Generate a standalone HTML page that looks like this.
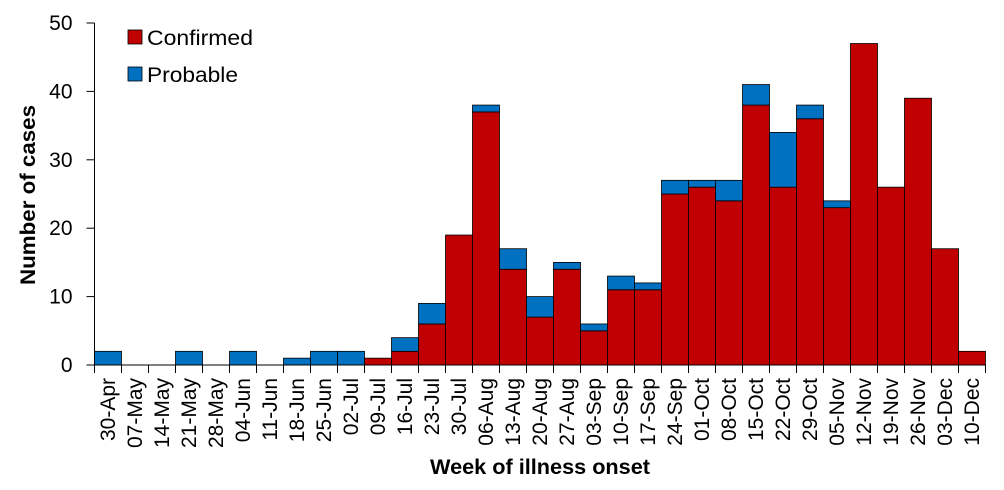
<!DOCTYPE html>
<html><head><meta charset="utf-8"><style>
html,body{margin:0;padding:0;background:#fff;}
svg text{font-family:"Liberation Sans",sans-serif;}
</style></head><body>
<svg id="chart" width="1004" height="485" viewBox="0 0 1004 485" xmlns="http://www.w3.org/2000/svg">
<g id="bars"></g>
<g id="axes"></g>
<g>
<rect x="128" y="30" width="14" height="14" fill="#C00000" stroke="#000" stroke-width="0.8"/>
<text x="147" y="45" font-size="21" textLength="106" lengthAdjust="spacingAndGlyphs">Confirmed</text>
<rect x="128" y="67" width="14" height="14" fill="#0070C0" stroke="#000" stroke-width="0.8"/>
<text x="147" y="82" font-size="21" textLength="91" lengthAdjust="spacingAndGlyphs">Probable</text>
</g>
<text transform="translate(35,195) rotate(-90)" text-anchor="middle" font-size="21" font-weight="bold" textLength="180" lengthAdjust="spacingAndGlyphs">Number of cases</text>
<text x="540" y="474" text-anchor="middle" font-size="21" font-weight="bold" textLength="220" lengthAdjust="spacingAndGlyphs">Week of illness onset</text>
</svg>
<script>
const categories=["30-Apr","07-May","14-May","21-May","28-May","04-Jun","11-Jun","18-Jun","25-Jun","02-Jul","09-Jul","16-Jul","23-Jul","30-Jul","06-Aug","13-Aug","20-Aug","27-Aug","03-Sep","10-Sep","17-Sep","24-Sep","01-Oct","08-Oct","15-Oct","22-Oct","29-Oct","05-Nov","12-Nov","19-Nov","26-Nov","03-Dec","10-Dec"];
const confirmed=[0,0,0,0,0,0,0,0,0,0,1,2,6,19,37,14,7,14,5,11,11,25,26,24,38,26,36,23,47,26,39,17,2];
const probable=[2,0,0,2,0,2,0,1,2,2,0,2,3,0,1,3,3,1,1,2,1,2,1,3,3,8,2,1,0,0,0,0,0];
const yTicks=[0,10,20,30,40,50];
const X0=94.5,X1=985.5,Y0=365,Y1=23,YMAX=50;
const bw=(X1-X0)/categories.length;
const x=i=>X0+i*bw;
const y=v=>Y0-(v/YMAX)*(Y0-Y1);
const NS="http://www.w3.org/2000/svg";
const bars=document.getElementById('bars'),axes=document.getElementById('axes');
function mk(tag,attrs,parent){const e=document.createElementNS(NS,tag);for(const k in attrs)e.setAttribute(k,attrs[k]);parent.appendChild(e);return e;}
categories.forEach((c,i)=>{
  if(confirmed[i]>0){const r=mk('rect',{x:x(i),y:y(confirmed[i]),width:bw,height:y(0)-y(confirmed[i]),fill:'#C00000',stroke:'#000','stroke-width':0.8},bars);
    
    }
  if(probable[i]>0){const t=confirmed[i]+probable[i];const r=mk('rect',{x:x(i),y:y(t),width:bw,height:y(confirmed[i])-y(t),fill:'#0070C0',stroke:'#000','stroke-width':0.8},bars);
    
    }
});
let l=mk('line',{x1:X0,y1:Y1,x2:X0,y2:Y0,stroke:'#000','stroke-width':1},axes);


l=mk('line',{x1:X0,y1:Y0,x2:X1,y2:Y0,stroke:'#000','stroke-width':1},axes);


yTicks.forEach(v=>{
  const t=mk('line',{x1:X0-8,y1:y(v),x2:X0,y2:y(v),stroke:'#000','stroke-width':1},axes);
  
  
  const tx=mk('text',{x:X0-22,y:y(v)+7,'text-anchor':'end','font-size':21},axes);tx.textContent=v;
  
  
});
for(let i=0;i<=categories.length;i++){
  const t=mk('line',{x1:x(i),y1:Y0,x2:x(i),y2:Y0+8,stroke:'#000','stroke-width':1},axes);
  
  
}
categories.forEach((c,i)=>{
  const cx=x(i)+bw/2+7;
  const tx=mk('text',{transform:'translate('+cx+',378) rotate(-90)','text-anchor':'end','font-size':21},axes);tx.textContent=c;
  
  
});
</script>
</body></html>
